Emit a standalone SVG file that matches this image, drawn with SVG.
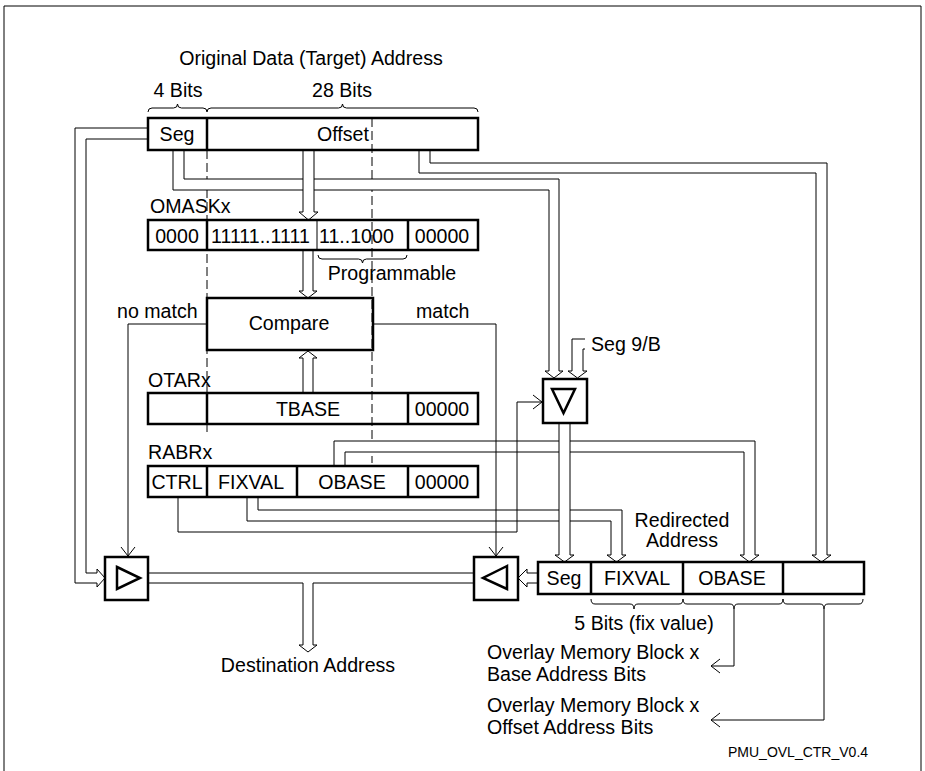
<svg xmlns="http://www.w3.org/2000/svg" width="925" height="771" viewBox="0 0 925 771">
<defs>
<style>
text{font-family:"Liberation Sans",Arial,sans-serif;font-size:19.6px;fill:#000}
.m{text-anchor:middle}
.sm{font-size:14px}
.box{fill:none;stroke:#000;stroke-width:2.5}
.mux{fill:#fff;stroke:#000;stroke-width:2.5}
.tri{fill:none;stroke:#000;stroke-width:2.5;stroke-linejoin:miter}
.dv{stroke:#000;stroke-width:2.5}
.dvt{stroke:#000;stroke-width:1}
.ln{fill:none;stroke:#000;stroke-width:1}
.bus{fill:#fff;stroke:#000;stroke-width:1}
.dash{fill:none;stroke:#000;stroke-width:1;stroke-dasharray:9 4}
</style>
<marker id="ah" markerWidth="12" markerHeight="16" refX="10" refY="8" orient="auto" markerUnits="userSpaceOnUse">
<path d="M1,1 L10,8 L1,15" fill="none" stroke="#000" stroke-width="1"/>
</marker>
</defs>
<path class="ln" d="M4,771 V6 H921 V771"/>
<g id="labels">
<text class="m" x="311" y="65">Original Data (Target) Address</text>
<text class="m" x="178" y="97">4 Bits</text>
<text class="m" x="342" y="97">28 Bits</text>
<path class="ln" d="M148,112 Q148,108 152,108 H173.5 Q177.5,108 177.5,104 Q177.5,108 181.5,108 H203 Q207,108 207,112"/>
<path class="ln" d="M207,112 Q207,108 211,108 H338.5 Q342.5,108 342.5,104 Q342.5,108 346.5,108 H474 Q478,108 478,112"/>
<path class="ln" d="M318,255 Q318,259 322,259 H358.5 Q362.5,259 362.5,263 Q362.5,259 366.5,259 H403 Q407,259 407,255"/>
<text class="m" x="392" y="280">Programmable</text>
<text x="117" y="318">no match</text>
<text x="416" y="318">match</text>
<text x="591" y="351">Seg 9/B</text>
<text class="m" x="682" y="527">Redirected</text>
<text class="m" x="682" y="547">Address</text>
<path class="ln" d="M591,599 Q591,604 595,604 H630 Q634,604 634,609 Q634,604 638,604 H679 Q683,604 683,599"/>
<path class="ln" d="M683,599 Q683,604 687,604 H730 Q734,604 734,609 Q734,604 738,604 H779 Q783,604 783,599"/>
<path class="ln" d="M783,599 Q783,604 787,604 H820 Q824,604 824,609 Q824,604 828,604 H859 Q863,604 863,599"/>
<text class="m" x="644" y="630">5 Bits (fix value)</text>
<text x="487" y="659">Overlay Memory Block x</text>
<text x="487" y="681">Base Address Bits</text>
<text x="487" y="712">Overlay Memory Block x</text>
<text x="487" y="734">Offset Address Bits</text>
<text class="m" x="308" y="672">Destination Address</text>
<text class="sm" x="728" y="757">PMU_OVL_CTR_V0.4</text>
</g>
<g id="connectors">
<path class="dash" d="M207,150 V435"/>
<path class="dash" d="M372,118 V463"/>
<path class="bus" d="M173,150 V190 H549 V371 H545 L554,378 L563,371 H559 V179 H184 V150"/>
<path class="bus" d="M419,150 V173 H816 V555 H812 L821.5,562 L831,555 H827 V163 H430 V150"/>
<path class="bus" d="M148,128 H75 V583 H97 V587 L105,578 L97,569 V573 H86 V139 H148"/>
<path class="bus" d="M247,497 V521 H611 V555 H607 L616.5,562 L626,555 H622 V510 H258 V497"/>
<path class="bus" d="M334,466 V441 H755 V555 H759 L749.5,562 L740,555 H744 V452 H345 V466"/>
<path class="bus" d="M303,150 V212 H299 L308.5,220 L318,212 H314 V150"/>
<path class="bus" d="M303,250 V291 H299 L308,298 L317,291 H313 V250"/>
<path class="bus" d="M303,393 V358 H299 L308,351 L317,358 H313 V393"/>
<path class="bus" d="M585,339 H572 V371 H568 L577.5,378 L587,371 H583 V349 H585"/>
<path class="bus" d="M538,573 H527 V569 L518,578 L527,587 V583 H538"/>
<path class="bus" d="M148,573 H474 V583 H313 V645 H317 L308,652 L299,645 H303 V583 H148"/>
<path class="ln" d="M207,324 H128 V556" marker-end="url(#ah)"/>
<path class="ln" d="M373,324 H496 V556" marker-end="url(#ah)"/>
<path class="ln" d="M178,497 V532 H517 V402 H542" marker-end="url(#ah)"/>
<path class="ln" d="M734,609 V666 H711" marker-end="url(#ah)"/>
<path class="ln" d="M824,609 V720 H711" marker-end="url(#ah)"/>
<path class="bus" d="M559,423 V555 H555 L564.5,562 L574,555 H570 V423"/>
</g>
<g id="address">
<rect class="box" x="148" y="118" width="330" height="32"/>
<line class="dv" x1="207" y1="118" x2="207" y2="150"/>
<text class="m" x="177" y="141">Seg</text>
<text class="m" x="343" y="141">Offset</text>
</g>
<g id="omaskx">
<text x="150" y="213">OMASKx</text>
<rect class="box" x="148" y="220" width="330" height="30"/>
<line class="dv" x1="207" y1="220" x2="207" y2="250"/>
<line class="dvt" x1="317" y1="220" x2="317" y2="250"/>
<line class="dv" x1="408" y1="220" x2="408" y2="250"/>
<text class="m" x="177" y="243">0000</text>
<text x="211" y="243">11111..1111</text>
<text x="319" y="243">11..1000</text>
<text class="m" x="442" y="243">00000</text>
</g>
<g id="compare">
<rect class="box" x="207" y="298" width="166" height="52"/>
<text class="m" x="289" y="330">Compare</text>
</g>
<g id="otarx">
<text x="148" y="387">OTARx</text>
<rect class="box" x="148" y="393" width="330" height="31"/>
<line class="dv" x1="207" y1="393" x2="207" y2="424"/>
<line class="dv" x1="408" y1="393" x2="408" y2="424"/>
<text class="m" x="308" y="416">TBASE</text>
<text class="m" x="442" y="416">00000</text>
</g>
<g id="rabrx">
<text x="148" y="459">RABRx</text>
<rect class="box" x="148" y="466" width="330" height="31"/>
<line class="dv" x1="207" y1="466" x2="207" y2="497"/>
<line class="dv" x1="297" y1="466" x2="297" y2="497"/>
<line class="dv" x1="408" y1="466" x2="408" y2="497"/>
<text class="m" x="177" y="489">CTRL</text>
<text class="m" x="251" y="489">FIXVAL</text>
<text class="m" x="352" y="489">OBASE</text>
<text class="m" x="442" y="489">00000</text>
</g>
<g id="mux-left">
<rect class="mux" x="105" y="557" width="43" height="43"/>
<path class="tri" d="M117,567 L140,578 L117,589 Z"/>
</g>
<g id="mux-right">
<rect class="mux" x="474" y="557" width="44" height="43"/>
<path class="tri" d="M507,566 L483,578 L507,589 Z"/>
</g>
<g id="mux-seg">
<rect class="mux" x="543" y="379" width="44" height="44"/>
<path class="tri" d="M552,389 L575,389 L563.5,413 Z"/>
</g>
<g id="redirected">
<rect class="box" x="538" y="562" width="326" height="32"/>
<line class="dv" x1="591" y1="562" x2="591" y2="594"/>
<line class="dv" x1="683" y1="562" x2="683" y2="594"/>
<line class="dv" x1="783" y1="562" x2="783" y2="594"/>
<text class="m" x="564" y="585">Seg</text>
<text class="m" x="637" y="585">FIXVAL</text>
<text class="m" x="732" y="585">OBASE</text>
</g>
</svg>
